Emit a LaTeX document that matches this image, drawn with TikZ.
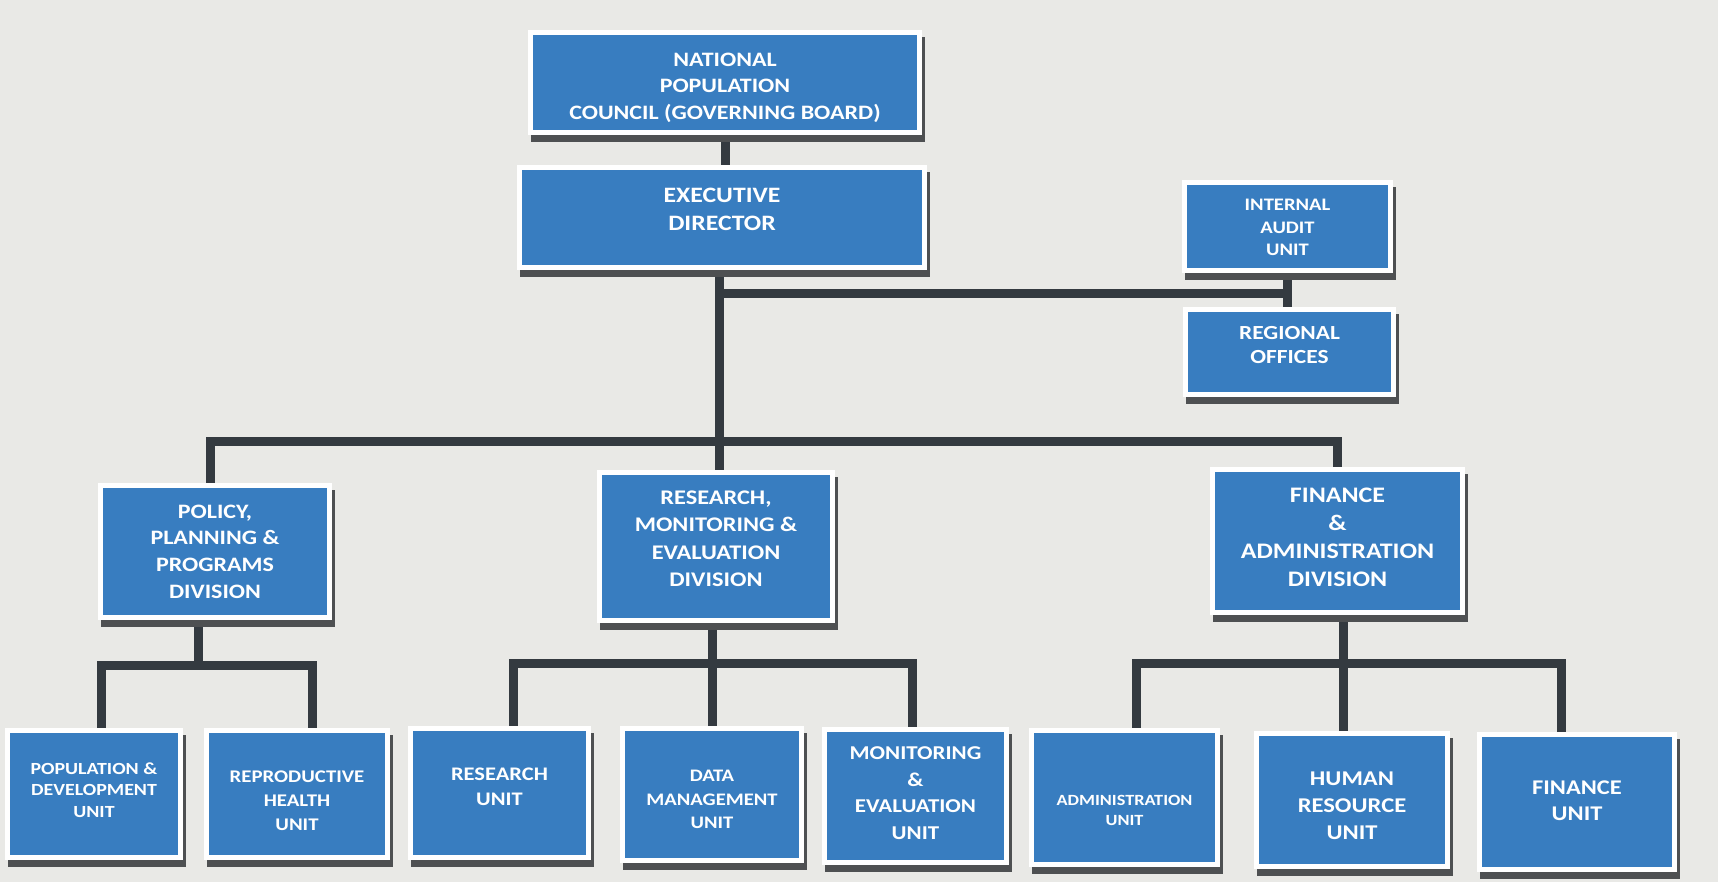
\documentclass[tikz,border=0pt]{standalone}
\usepackage{fontspec}
\setmainfont{Carlito}[FakeStretch=1.17]
\definecolor{boxblue}{RGB}{56,125,192}
\definecolor{bgcol}{RGB}{233,233,230}
\definecolor{shadowcol}{RGB}{78,80,82}
\definecolor{conncol}{RGB}{52,58,64}
\pgfdeclarelayer{bglayer}
\pgfdeclarelayer{edgelayer}
\pgfsetlayers{bglayer,edgelayer,main}
\newcommand\fsz[2]{\fontsize{#1}{#2}\selectfont\bfseries}
\newcommand\orgbox[8]{%
  \pgfmathsetmacro\obW{#4-#2+5}\pgfmathsetmacro\obH{#5-#3+5}%
  \pgfmathsetmacro\obX{(#2+#4)/2}\pgfmathsetmacro\obY{(#3+#5)/2}%
  \node[orgbx, minimum width=\obW pt, minimum height=\obH pt] (#1) at (\obX,\obY) {};
  \node[orgtxt, font=#6] (#1-t) at (\obX,\obY+#7) {#8};
}
\tikzset{
  orgbx/.style={rectangle, fill=boxblue, draw=white, line width=5pt, inner sep=0pt,
    preaction={draw=shadowcol, fill=shadowcol, line width=5pt,
      transform canvas={shift={(3pt,-7pt)}}}},
  orgtxt/.style={text=white, align=center, inner sep=0pt},
  conn/.style={draw=conncol, line width=9pt, line join=miter},
}
\begin{document}
\begin{tikzpicture}[x=1pt,y=-1pt]
\begin{pgfonlayer}{bglayer}
\fill[bgcol] (0,0) rectangle (1718,882);
\end{pgfonlayer}
\useasboundingbox (0,0) rectangle (1718,882);

% top levels
\orgbox{ncp}{533}{35}{917}{130}{\fsz{20.5}{26.5}}{5}{NATIONAL\\POPULATION\\COUNCIL (GOVERNING BOARD)}
\orgbox{exec}{522}{170}{922}{265}{\fsz{22}{28}}{-8}{EXECUTIVE\\DIRECTOR}
\orgbox{audit}{1187}{185}{1388}{268}{\fsz{17.6}{22.5}}{1}{INTERNAL\\AUDIT\\UNIT}
\orgbox{regional}{1188}{312}{1391}{392}{\fsz{20}{24}}{-7}{REGIONAL\\OFFICES}

% divisions
\orgbox{policy}{103}{488}{327}{615}{\fsz{20.5}{26.7}}{0}{POLICY,\\PLANNING \&\\PROGRAMS\\DIVISION}
\orgbox{rme}{602}{475}{830}{618}{\fsz{20.8}{27.5}}{-8}{RESEARCH,\\MONITORING \&\\EVALUATION\\DIVISION}
\orgbox{fad}{1215}{472}{1460}{610}{\fsz{22.2}{28}}{-4}{FINANCE\\\&\\ADMINISTRATION\\DIVISION}

% units
\orgbox{popdev}{10}{733}{178}{855}{\fsz{17}{21.5}}{-4}{POPULATION \&\\DEVELOPMENT\\UNIT}
\orgbox{repro}{209}{733}{385}{855}{\fsz{17.8}{24}}{7}{REPRODUCTIVE\\HEALTH\\UNIT}
\orgbox{resunit}{413}{731}{586}{855}{\fsz{19.2}{25}}{-6}{RESEARCH\\UNIT}
\orgbox{datamgmt}{625}{731}{799}{858}{\fsz{17.6}{23.5}}{5}{DATA\\MANAGEMENT\\UNIT}
\orgbox{me}{827}{732}{1004}{860}{\fsz{19.6}{26.7}}{-3}{MONITORING\\\&\\EVALUATION\\UNIT}
\orgbox{admin}{1034}{733}{1215}{862}{\fsz{15.6}{20}}{13}{ADMINISTRATION\\UNIT}
\orgbox{hr}{1259}{736}{1445}{864}{\fsz{21}{27}}{6}{HUMAN\\RESOURCE\\UNIT}
\orgbox{finunit}{1482}{737}{1672}{867}{\fsz{20.9}{26}}{-1}{FINANCE\\UNIT}

\coordinate (jmain) at (719,441);
\coordinate (jaud) at (719,294);
\coordinate (jpol) at (198,665);
\coordinate (jrme) at (712,663);
\coordinate (jfad) at (1343,663);

\begin{pgfonlayer}{edgelayer}
\draw[conn] (ncp.south) -- (ncp.south |- exec.north);
\draw[conn] (exec.south -| jmain) -- (jmain |- rme.north);
\draw[conn] (jaud) -| (audit.south);
\draw[conn] (audit.south) -- (audit.south |- regional.north);
\draw[conn] ([xshift=-5pt]policy.north) |- (jmain) -| (fad.north);
% policy branch
\draw[conn] (policy.south -| jpol) -- (jpol);
\draw[conn] ([xshift=7pt]popdev.north) |- (jpol) -| ([xshift=15pt]repro.north);
% research branch
\draw[conn] (rme.south -| jrme) -- (jrme);
\draw[conn] ([xshift=14pt]resunit.north) |- (jrme) -| ([xshift=-3pt]me.north);
\draw[conn] (jrme) -- (jrme |- datamgmt.north);
% finance branch
\draw[conn] (fad.south -| jfad) -- (jfad);
\draw[conn] ([xshift=12pt]admin.north) |- (jfad) -| ([xshift=-16pt]finunit.north);
\draw[conn] (jfad) -- (jfad |- hr.north);
\end{pgfonlayer}
\end{tikzpicture}
\end{document}
